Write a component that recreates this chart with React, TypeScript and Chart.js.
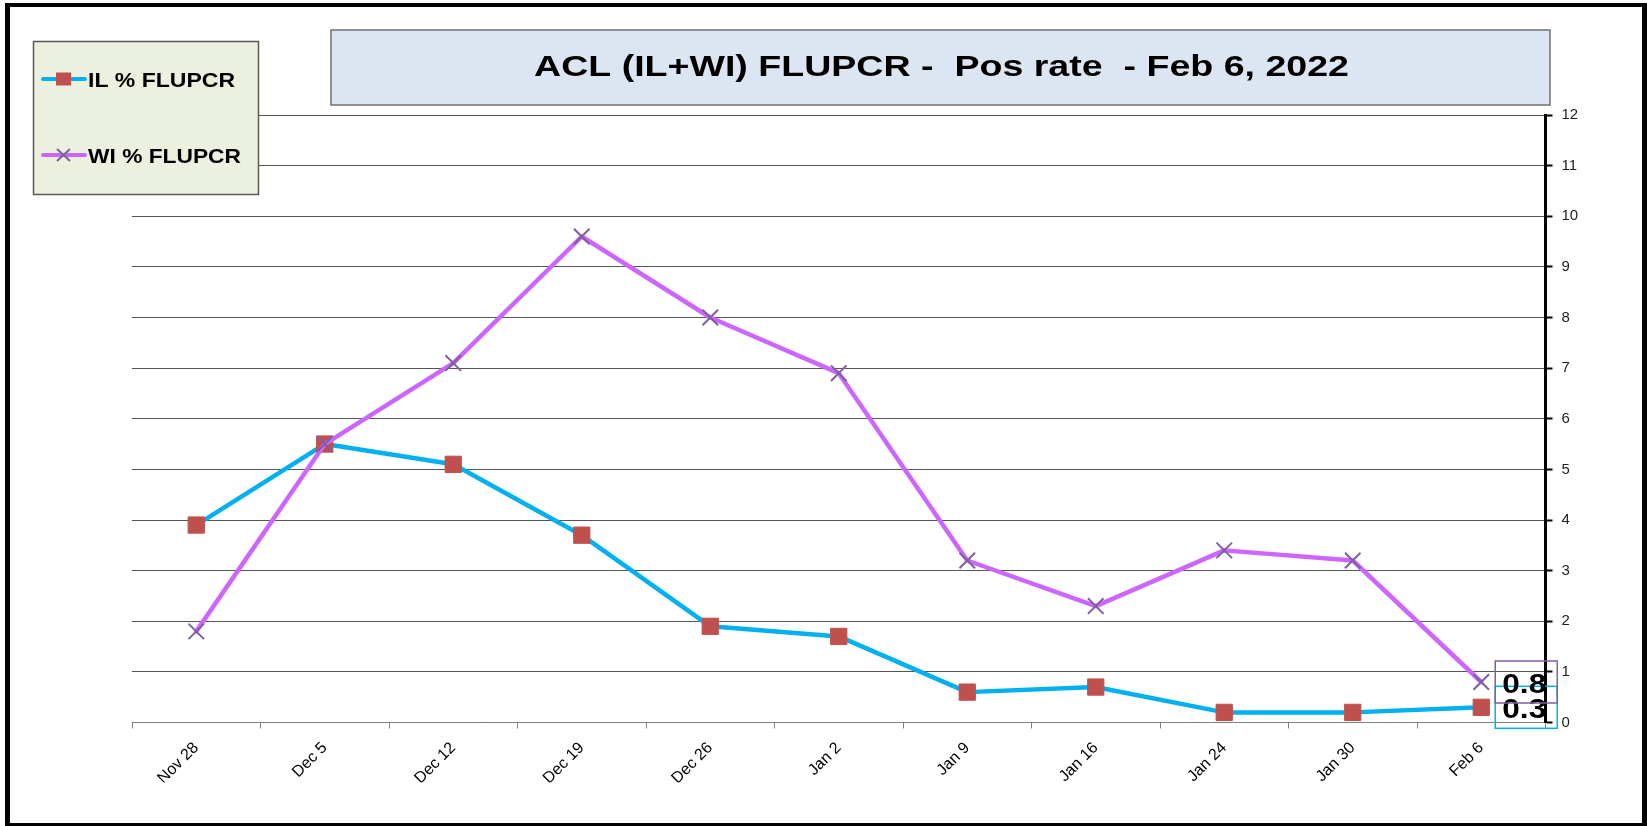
import React, { useEffect, useRef } from "react";
import { Chart, registerables } from "chart.js";

Chart.register(...registerables);

const categories = ["Nov 28", "Dec 5", "Dec 12", "Dec 19", "Dec 26", "Jan 2", "Jan 9", "Jan 16", "Jan 24", "Jan 30", "Feb 6"];
const ilValues = [3.9, 5.5, 5.1, 3.7, 1.9, 1.7, 0.6, 0.7, 0.2, 0.2, 0.3];
const wiValues = [1.8, 5.5, 7.1, 9.6, 8.0, 6.9, 3.2, 2.3, 3.4, 3.2, 0.8];
const seriesNames = ["IL % FLUPCR", "WI % FLUPCR"];
const titleText = "ACL (IL+WI) FLUPCR -  Pos rate  - Feb 6, 2022";
const yMin = 0;
const yMax = 12;
const yStep = 1;

const FONT = '"Liberation Sans", Arial, Helvetica, sans-serif';
const IL_LINE = "#00b0f0";
const IL_MARK = "#c0504d";
const WI_LINE = "#cc66ff";
const WI_MARK = "#7f5fa0";

function stretchedText(
  ctx: CanvasRenderingContext2D,
  text: string,
  x: number,
  y: number,
  font: string,
  targetWidth: number,
  align: "left" | "center"
) {
  ctx.save();
  ctx.font = font;
  ctx.textAlign = "left";
  ctx.textBaseline = "alphabetic";
  const w = ctx.measureText(text).width;
  const sx = targetWidth / w;
  ctx.translate(x, y);
  ctx.scale(sx, 1);
  ctx.fillStyle = "#000";
  ctx.fillText(text, align === "center" ? -w / 2 : 0, 0);
  ctx.restore();
}

const framePlugin = {
  id: "frameAndTitle",
  beforeDraw(chart: any) {
    const ctx: CanvasRenderingContext2D = chart.ctx;
    ctx.save();
    ctx.fillStyle = "#fff";
    ctx.fillRect(0, 0, chart.width, chart.height);
    ctx.fillStyle = "#000";
    ctx.fillRect(5, 3, 5, 823);
    ctx.fillRect(5, 3, 1642, 4);
    ctx.fillRect(1642, 3, 5, 823);
    ctx.fillRect(5, 823, 1642, 3);
    ctx.fillStyle = "#dce6f2";
    ctx.fillRect(331, 30, 1219, 75);
    ctx.strokeStyle = "#6f6f6f";
    ctx.lineWidth = 1.5;
    ctx.strokeRect(331, 30, 1219, 75);
    ctx.restore();
    stretchedText(ctx, titleText, 941.5, 76, `bold 29px ${FONT}`, 815, "center");
  },
};

const labelPlugin = {
  id: "lastLabels",
  afterDatasetsDraw(chart: any) {
    const ctx: CanvasRenderingContext2D = chart.ctx;
    const specs = [
      { ds: 0, color: IL_LINE },
      { ds: 1, color: WI_MARK },
    ];
    specs.forEach((s) => {
      const meta = chart.getDatasetMeta(s.ds);
      const data = chart.data.datasets[s.ds].data as number[];
      const last = meta.data[meta.data.length - 1];
      const v = data[data.length - 1];
      const bx = last.x + 14;
      const by = last.y - 21;
      ctx.save();
      ctx.strokeStyle = s.color;
      ctx.lineWidth = 1.5;
      ctx.strokeRect(bx, by, 62, 42);
      ctx.restore();
      stretchedText(ctx, v.toFixed(1), bx + 7, last.y + 11, `bold 27px ${FONT}`, 44, "left");
    });
  },
};

const legendPlugin = {
  id: "customLegend",
  afterDraw(chart: any) {
    const ctx: CanvasRenderingContext2D = chart.ctx;
    ctx.save();
    ctx.fillStyle = "#ebf1de";
    ctx.fillRect(33.5, 41.5, 225, 153);
    ctx.strokeStyle = "#595959";
    ctx.lineWidth = 1.5;
    ctx.strokeRect(33.5, 41.5, 225, 153);
    ctx.lineCap = "round";
    ctx.strokeStyle = IL_LINE;
    ctx.lineWidth = 4;
    ctx.beginPath();
    ctx.moveTo(43, 79);
    ctx.lineTo(85, 79);
    ctx.stroke();
    ctx.fillStyle = IL_MARK;
    ctx.fillRect(56, 72.5, 15, 13);
    ctx.strokeStyle = WI_LINE;
    ctx.beginPath();
    ctx.moveTo(43, 155);
    ctx.lineTo(85, 155);
    ctx.stroke();
    ctx.strokeStyle = WI_MARK;
    ctx.lineWidth = 2;
    ctx.lineCap = "butt";
    ctx.beginPath();
    ctx.moveTo(57, 149);
    ctx.lineTo(70, 161);
    ctx.moveTo(70, 149);
    ctx.lineTo(57, 161);
    ctx.stroke();
    ctx.restore();
    stretchedText(ctx, seriesNames[0], 88, 87, `bold 21px ${FONT}`, 147, "left");
    stretchedText(ctx, seriesNames[1], 88, 163, `bold 21px ${FONT}`, 153, "left");
  },
};

export default function App() {
  const canvasRef = useRef<HTMLCanvasElement | null>(null);

  useEffect(() => {
    const canvas = canvasRef.current;
    if (!canvas) return;
    Chart.defaults.font.family = FONT;
    const chart = new Chart(canvas, {
      type: "line",
      data: {
        labels: categories,
        datasets: [
          {
            label: seriesNames[0],
            data: ilValues,
            borderColor: IL_LINE,
            borderWidth: 4.5,
            borderCapStyle: "round",
            borderJoinStyle: "round",
            tension: 0,
            pointStyle: "rect",
            pointRadius: 11.5,
            pointBackgroundColor: IL_MARK,
            pointBorderColor: IL_MARK,
            pointBorderWidth: 1,
            order: 2,
            clip: false as any,
          },
          {
            label: seriesNames[1],
            data: wiValues,
            borderColor: WI_LINE,
            borderWidth: 4.5,
            borderCapStyle: "round",
            borderJoinStyle: "round",
            tension: 0,
            pointStyle: "crossRot",
            pointRadius: 11,
            pointBackgroundColor: WI_MARK,
            pointBorderColor: WI_MARK,
            pointBorderWidth: 2,
            order: 1,
            clip: false as any,
          },
        ],
      },
      options: {
        responsive: false,
        animation: false,
        devicePixelRatio: 1,
        events: [],
        layout: {
          padding: { left: 132, top: 115, right: 51.5, bottom: 43.5 },
        },
        plugins: {
          legend: { display: false },
          title: { display: false },
          tooltip: { enabled: false },
        },
        scales: {
          x: {
            offset: true,
            grid: {
              display: true,
              offset: true,
              drawOnChartArea: false,
              drawTicks: true,
              tickLength: 6,
              color: "#808080",
            },
            border: { display: true, color: "#808080", width: 1 },
            ticks: {
              autoSkip: false,
              minRotation: 45,
              maxRotation: 45,
              color: "#000",
              padding: 10,
              font: { size: 16, family: FONT },
            },
            afterFit: (s: any) => {
              s.height = 60;
            },
          },
          y: {
            position: "right",
            min: yMin,
            max: yMax,
            ticks: {
              stepSize: yStep,
              color: "#222",
              padding: 9,
              font: { size: 15, family: FONT },
            },
            grid: {
              color: "#555",
              lineWidth: 1,
              drawTicks: true,
              tickLength: 7,
              tickColor: "#000",
              tickWidth: 2,
            },
            border: { display: true, color: "#000", width: 3 },
            afterFit: (s: any) => {
              s.width = 50;
            },
          },
        },
      },
      plugins: [framePlugin, labelPlugin, legendPlugin],
    });
    return () => chart.destroy();
  }, []);

  return (
    <div style={{ position: "fixed", left: 0, top: 0, width: 1647, height: 826, background: "#fff" }}>
      <canvas ref={canvasRef} width={1647} height={826} style={{ display: "block", width: 1647, height: 826 }} />
    </div>
  );
}
